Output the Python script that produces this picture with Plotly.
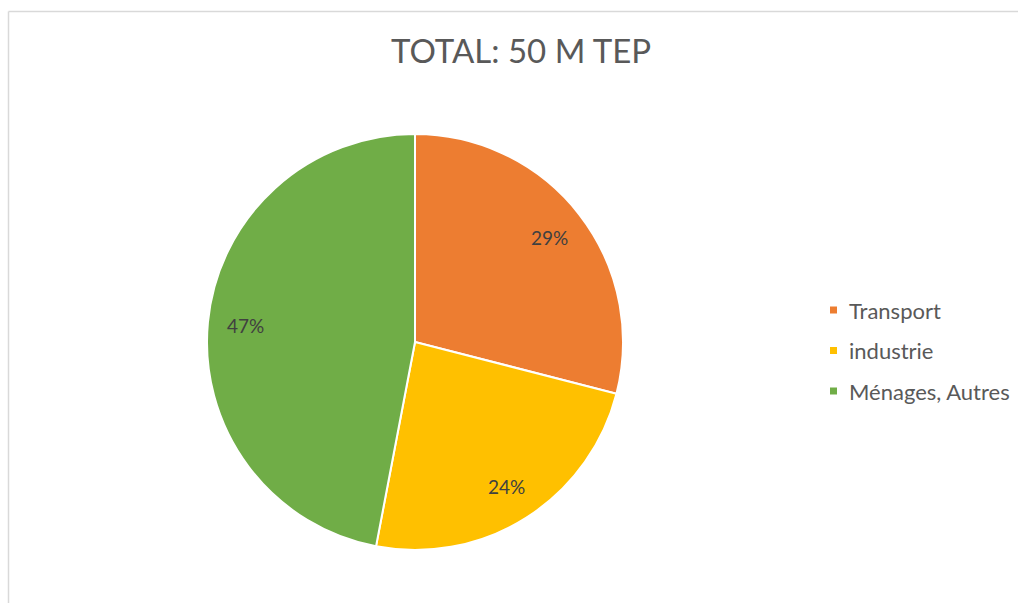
import math
import plotly.graph_objects as go

# Final energy consumption split (M TEP total = 50)
categories = ["Transport", "industrie", "Ménages, Autres"]
shares = [29, 24, 47]
colors = ["#ED7D31", "#FFC000", "#70AD47"]
title_text = "TOTAL: 50 M TEP"

W, H = 1018, 603
cx, cy, R = 415, 342, 208  # pie centre and radius in pixels

fig = go.Figure()
fig.add_trace(go.Pie(
    labels=categories,
    values=shares,
    sort=False,
    direction="clockwise",
    rotation=0,
    marker=dict(colors=colors, line=dict(color="white", width=2)),
    textinfo="none",
    hoverinfo="label+percent",
    domain=dict(x=[(cx - R) / W, (cx + R) / W],
                y=[(H - cy - R) / H, (H - cy + R) / H]),
    showlegend=False,
))

annotations = []
# percentage labels placed along each slice's mid-angle
total = sum(shares)
cum = 0
for v in shares:
    mid = (cum + v / 2) / total * 2 * math.pi
    cum += v
    r = 0.82 * R
    px = cx + r * math.sin(mid)
    py = cy - r * math.cos(mid)
    annotations.append(dict(
        x=px / W, y=1 - py / H, xref="paper", yref="paper",
        xanchor="center", yanchor="middle",
        text=f"{v}%", showarrow=False,
        font=dict(family="Lato, Open Sans, sans-serif", size=19, color="#404040"),
    ))

# legend drawn as marker squares + labels
shapes = []
leg_x, leg_y0, leg_dy = 833.5, 310, 40.5
for i, (lab, col) in enumerate(zip(categories, colors)):
    yy = leg_y0 + i * leg_dy
    shapes.append(dict(type="rect", xref="paper", yref="paper",
                       x0=(leg_x - 3.5) / W, x1=(leg_x + 3.5) / W,
                       y0=1 - (yy + 3.5) / H, y1=1 - (yy - 3.5) / H,
                       fillcolor=col, line=dict(width=0)))
    annotations.append(dict(
        x=(leg_x + 13) / W, y=1 - yy / H, xref="paper", yref="paper",
        xanchor="left", yanchor="middle", text=lab, showarrow=False,
        font=dict(family="Lato, Open Sans, sans-serif", size=22, color="#595959"),
    ))

# title
annotations.append(dict(
    x=520.5 / W, y=1 - 50 / H, xref="paper", yref="paper",
    xanchor="center", yanchor="middle", text=title_text, showarrow=False,
    font=dict(family="Lato, Open Sans, sans-serif", size=33, color="#595959"),
))

# chart area border (top and left edges)
shapes.append(dict(type="line", xref="paper", yref="paper",
                   x0=8.5 / W, x1=1.0, y0=1 - 11.5 / H, y1=1 - 11.5 / H,
                   line=dict(color="#D9D9D9", width=1.5)))
shapes.append(dict(type="line", xref="paper", yref="paper",
                   x0=8.5 / W, x1=8.5 / W, y0=0.0, y1=1 - 11.5 / H,
                   line=dict(color="#D9D9D9", width=1.5)))

fig.update_layout(
    width=W, height=H, autosize=False,
    margin=dict(l=0, r=0, t=0, b=0),
    paper_bgcolor="white", plot_bgcolor="white",
    annotations=annotations, shapes=shapes,
)

fig.write_html("out.html")
